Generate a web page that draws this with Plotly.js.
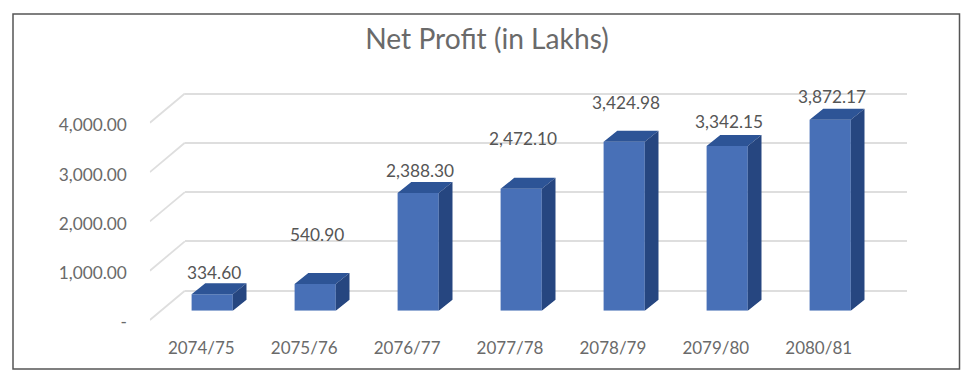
<!DOCTYPE html>
<html><head><meta charset="utf-8">
<script src="https://cdn.plot.ly/plotly-3.0.1.min.js"></script>
<style>html,body{margin:0;padding:0;background:#fff}#c{width:979px;height:381px}</style></head>
<body><div id="c"></div>
<script>
const categories = ['2074/75','2075/76','2076/77','2077/78','2078/79','2079/80','2080/81'];
const netProfit = [334.60,540.90,2388.30,2472.10,3424.98,3342.15,3872.17];
const tickValues = [0,1000,2000,3000,4000];
const tickLabels = ['-','1,000.00','2,000.00','3,000.00','4,000.00'];
const labelLift = [22,50,22,50,39,24,23];

const W=979,H=381,pxPer=0.0493;
const fx=p=>p/W, fy=p=>1-p/H;
const idx=categories.map((_,i)=>i);
const barW=0.4, dX=13.7/103, dY=11/pxPer;
const topFace=[],sideFace=[];
netProfit.forEach((v,i)=>{
  const l=i-barW/2,r=i+barW/2;
  topFace.push([l,v],[r,v],[r+dX,v+dY],[l+dX,v+dY],[null,null]);
  sideFace.push([r,0],[r+dX,dY],[r+dX,v+dY],[r,v],[null,null]);
});
const labelDrop=2.4/pxPer;
const slantDx=35/102.9, slantDy=29.3/pxPer;
const slant=[];
tickValues.forEach(v=>slant.push([-0.5,v+labelDrop],[-0.5+slantDx,v+labelDrop+slantDy],[null,null]));

const fontFam='Lato,"Open Sans",sans-serif';
const traces=[
 {type:'scatter',mode:'none',x:tickValues.map(()=>0),y:tickValues,xaxis:'x',yaxis:'y',hoverinfo:'skip',showlegend:false},
 {type:'bar',x:idx,y:netProfit,xaxis:'x2',yaxis:'y2',width:barW,marker:{color:'#4870B7',line:{width:0}},showlegend:false,name:'Net Profit'},
 {type:'scatter',mode:'lines',x:topFace.map(p=>p[0]),y:topFace.map(p=>p[1]),xaxis:'x2',yaxis:'y2',fill:'toself',fillcolor:'#2D5496',line:{width:0},hoverinfo:'skip',showlegend:false},
 {type:'scatter',mode:'lines',x:sideFace.map(p=>p[0]),y:sideFace.map(p=>p[1]),xaxis:'x2',yaxis:'y2',fill:'toself',fillcolor:'#264680',line:{width:0},hoverinfo:'skip',showlegend:false},
 {type:'scatter',mode:'lines',x:slant.map(p=>p[0]),y:slant.map(p=>p[1]),xaxis:'x3',yaxis:'y3',cliponaxis:false,line:{color:'#dedede',width:1.8},hoverinfo:'skip',showlegend:false}
];
const fmt=v=>v.toLocaleString('en-US',{minimumFractionDigits:2,maximumFractionDigits:2});
const layout={
 width:W,height:H,margin:{l:0,r:0,t:0,b:0},paper_bgcolor:'#fff',plot_bgcolor:'rgba(0,0,0,0)',showlegend:false,
 font:{family:fontFam,color:'#595959'},
 title:{text:'Net Profit (in Lakhs)',font:{family:fontFam,size:28.2,color:'#6a6a6a'},x:487/W,xanchor:'center',y:1-39/H,yanchor:'middle'},
 xaxis:{domain:[fx(185),fx(907)],range:[0,1],visible:false,fixedrange:true},
 yaxis:{domain:[fy(290.7+100*pxPer),fy(290.7-4100*pxPer)],range:[-100,4100],tickvals:tickValues,tickmode:'array',showgrid:true,gridcolor:'#dedede',gridwidth:2,zeroline:false,showline:false,showticklabels:false,ticks:'',fixedrange:true},
 xaxis2:{domain:[fx(160.7),fx(881.7)],range:[-0.5,6.5],visible:false,anchor:'y2',fixedrange:true},
 yaxis2:{domain:[fy(310.7),fy(60)],range:[0,250.7/pxPer],visible:false,anchor:'x2',fixedrange:true},
 xaxis3:{domain:[fx(149.85),fx(870.15)],range:[-0.5,6.5],anchor:'y3',tickmode:'array',tickvals:idx,ticktext:categories,showgrid:false,zeroline:false,showline:false,ticks:'outside',ticklen:10.6,tickcolor:'rgba(0,0,0,0)',tickfont:{family:fontFam,size:17,color:'#6a6a6a'},fixedrange:true},
 yaxis3:{domain:[fy(322.4),fy(60)],range:[0,262.4/pxPer],anchor:'x3',tickmode:'array',tickvals:tickValues,ticktext:tickLabels,showgrid:false,zeroline:false,showline:false,ticks:'outside',ticklen:18.5,tickcolor:'rgba(0,0,0,0)',tickfont:{family:fontFam,size:17.3,color:'#6a6a6a'},fixedrange:true},
 shapes:[{type:'rect',xref:'paper',yref:'paper',x0:fx(13),x1:fx(959.5),y0:fy(369),y1:fy(14),line:{color:'#555555',width:1.5},fillcolor:'rgba(0,0,0,0)',layer:'above'}],
 annotations:netProfit.map((v,i)=>({xref:'x2',yref:'y2',x:i,y:v,yshift:labelLift[i],text:fmt(v),showarrow:false,xshift:2,yanchor:'middle',font:{family:fontFam,size:17.3,color:'#555555'}}))
};
Plotly.newPlot('c',traces,layout,{displayModeBar:false,responsive:false});
</script></body></html>
